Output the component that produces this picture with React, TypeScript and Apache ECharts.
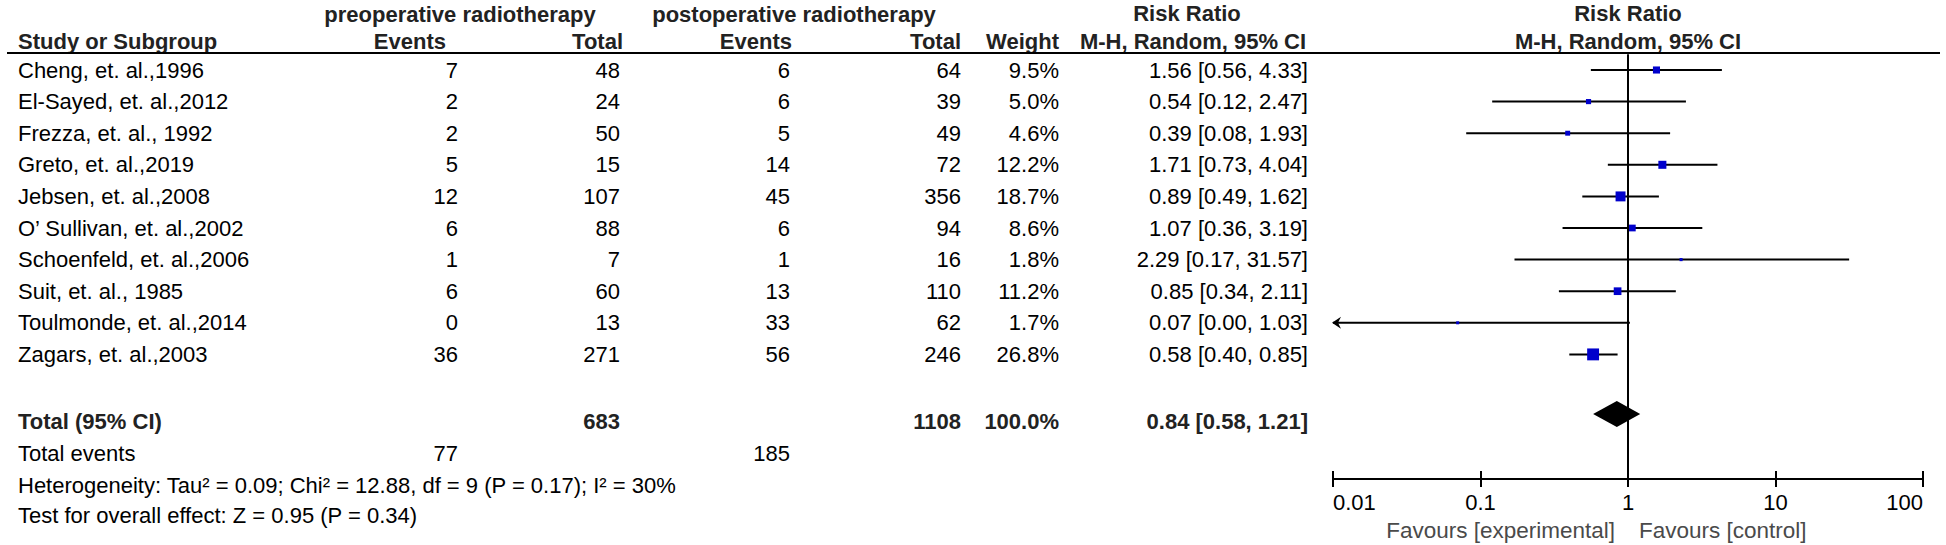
import React, { useEffect, useRef } from "react";
import * as echarts from "echarts";

// ---------- data ----------
const studies = [
  "Cheng, et. al.,1996",
  "El-Sayed, et. al.,2012",
  "Frezza, et. al., 1992",
  "Greto, et. al.,2019",
  "Jebsen, et. al.,2008",
  "O’ Sullivan, et. al.,2002",
  "Schoenfeld, et. al.,2006",
  "Suit, et. al., 1985",
  "Toulmonde, et. al.,2014",
  "Zagars, et. al.,2003",
];
const preEvents = [7, 2, 2, 5, 12, 6, 1, 6, 0, 36];
const preTotal = [48, 24, 50, 15, 107, 88, 7, 60, 13, 271];
const postEvents = [6, 6, 5, 14, 45, 6, 1, 13, 33, 56];
const postTotal = [64, 39, 49, 72, 356, 94, 16, 110, 62, 246];
const weights = [9.5, 5.0, 4.6, 12.2, 18.7, 8.6, 1.8, 11.2, 1.7, 26.8];
const riskRatio = [1.56, 0.54, 0.39, 1.71, 0.89, 1.07, 2.29, 0.85, 0.07, 0.58];
const ciLower = [0.56, 0.12, 0.08, 0.73, 0.49, 0.36, 0.17, 0.34, 0.0, 0.4];
const ciUpper = [4.33, 2.47, 1.93, 4.04, 1.62, 3.19, 31.57, 2.11, 1.03, 0.85];

const totalParticipants = [683, 1108];
const totalEvents = [77, 185];
const totalWeight = [100.0];
const pooled = [0.84, 0.58, 1.21]; // estimate, lower, upper

const heterogeneityText =
  "Heterogeneity: Tau² = 0.09; Chi² = 12.88, df = 9 (P = 0.17); I² = 30%";
const overallText = "Test for overall effect: Z = 0.95 (P = 0.34)";
const xTicks = [0.01, 0.1, 1, 10, 100];
const favourLabels = ["Favours [experimental]", "Favours [control]"];
const groupLabels = ["preoperative radiotherapy", "postoperative radiotherapy"];

// ---------- layout ----------
const W = 1946;
const H = 545;
const FONT = '"Liberation Sans", Arial, Helvetica, sans-serif';
const FS = 22;
const ROW0 = 70;
const ROWH = 31.6;
const AXIS_Y = 479;
const X_LEFT = 1333;
const X_RIGHT = 1923;
const DIAMOND_Y = 414;
const COL = {
  name: 18,
  preEv: 458,
  preTot: 620,
  postEv: 790,
  postTot: 961,
  weight: 1059,
  rr: 1308,
  plotC: 1628,
};

const fmt2 = (v: number) => v.toFixed(2);

function txt(
  text: string,
  x: number,
  y: number,
  align: string,
  opts: { bold?: boolean; size?: number; color?: string } = {}
) {
  return {
    type: "text",
    x,
    y,
    silent: true,
    style: {
      text,
      fontFamily: FONT,
      fontSize: opts.size ?? FS,
      fontWeight: opts.bold ? "bold" : "normal",
      fill: opts.color ?? "#000",
      align,
      textAlign: align,
      verticalAlign: "middle",
      textVerticalAlign: "middle",
    },
  };
}

export default function App() {
  const ref = useRef<HTMLDivElement>(null);

  useEffect(() => {
    document.body.style.margin = "0";
    if (!ref.current) return;
    const chart = echarts.init(ref.current, undefined, { renderer: "svg" });

    const gridTop = ROW0 - ROWH * 0.5;
    const yMin = -0.5;
    const yMax = yMin + (AXIS_Y - gridTop) / ROWH;
    const diamondRow = (DIAMOND_Y - ROW0) / ROWH;

    const graphics: any[] = [];
    const hdr = "#222";
    // header row 1
    graphics.push(txt(groupLabels[0], 460, 14, "center", { bold: true, color: hdr }));
    graphics.push(txt(groupLabels[1], 794, 14, "center", { bold: true, color: hdr }));
    graphics.push(txt("Risk Ratio", 1187, 13, "center", { bold: true, color: hdr }));
    graphics.push(txt("Risk Ratio", COL.plotC, 13, "center", { bold: true, color: hdr }));
    // header row 2
    graphics.push(txt("Study or Subgroup", COL.name, 41, "left", { bold: true, color: hdr }));
    graphics.push(txt("Events", 446, 41, "right", { bold: true, color: hdr }));
    graphics.push(txt("Total", 623, 41, "right", { bold: true, color: hdr }));
    graphics.push(txt("Events", 792, 41, "right", { bold: true, color: hdr }));
    graphics.push(txt("Total", COL.postTot, 41, "right", { bold: true, color: hdr }));
    graphics.push(txt("Weight", COL.weight, 41, "right", { bold: true, color: hdr }));
    graphics.push(txt("M-H, Random, 95% CI", 1193, 41, "center", { bold: true, color: hdr }));
    graphics.push(txt("M-H, Random, 95% CI", COL.plotC, 41, "center", { bold: true, color: hdr }));
    graphics.push({
      type: "line",
      silent: true,
      shape: { x1: 7, y1: 53, x2: 1940, y2: 53 },
      style: { stroke: "#000", lineWidth: 2 },
    });

    // study rows
    studies.forEach((s, i) => {
      const y = ROW0 + ROWH * i;
      graphics.push(txt(s, COL.name, y, "left"));
      graphics.push(txt(String(preEvents[i]), COL.preEv, y, "right"));
      graphics.push(txt(String(preTotal[i]), COL.preTot, y, "right"));
      graphics.push(txt(String(postEvents[i]), COL.postEv, y, "right"));
      graphics.push(txt(String(postTotal[i]), COL.postTot, y, "right"));
      graphics.push(txt(weights[i].toFixed(1) + "%", COL.weight, y, "right"));
      graphics.push(
        txt(
          `${fmt2(riskRatio[i])} [${fmt2(ciLower[i])}, ${fmt2(ciUpper[i])}]`,
          COL.rr,
          y,
          "right"
        )
      );
    });

    // totals
    const yT = 421;
    graphics.push(txt("Total (95% CI)", COL.name, yT, "left", { bold: true, color: hdr }));
    graphics.push(txt(String(totalParticipants[0]), COL.preTot, yT, "right", { bold: true, color: hdr }));
    graphics.push(txt(String(totalParticipants[1]), COL.postTot, yT, "right", { bold: true, color: hdr }));
    graphics.push(txt(totalWeight[0].toFixed(1) + "%", COL.weight, yT, "right", { bold: true, color: hdr }));
    graphics.push(
      txt(
        `${fmt2(pooled[0])} [${fmt2(pooled[1])}, ${fmt2(pooled[2])}]`,
        COL.rr,
        yT,
        "right",
        { bold: true, color: hdr }
      )
    );
    graphics.push(txt("Total events", COL.name, 453, "left"));
    graphics.push(txt(String(totalEvents[0]), COL.preEv, 453, "right"));
    graphics.push(txt(String(totalEvents[1]), COL.postEv, 453, "right"));
    graphics.push(txt(heterogeneityText, COL.name, 485, "left"));
    graphics.push(txt(overallText, COL.name, 515, "left"));

    // favours
    graphics.push(txt(favourLabels[0], 1615, 530, "right", { size: 22.5, color: "#4a4a4a" }));
    graphics.push(txt(favourLabels[1], 1639, 530, "left", { size: 22.5, color: "#4a4a4a" }));

    const whiskerData = studies.map((_, i) => [ciLower[i], ciUpper[i], i]);
    const pointData = studies.map((_, i) => [riskRatio[i], i, weights[i]]);

    const option: any = {
      animation: false,
      backgroundColor: "#fff",
      grid: {
        left: X_LEFT,
        right: W - X_RIGHT,
        top: gridTop,
        bottom: H - AXIS_Y,
        containLabel: false,
      },
      xAxis: [
        {
          type: "log",
          logBase: 10,
          min: xTicks[0],
          max: xTicks[xTicks.length - 1],
          position: "bottom",
          axisLine: { show: true, onZero: false, lineStyle: { color: "#000", width: 2 } },
          axisTick: { show: true, length: 8, lineStyle: { color: "#000", width: 2 } },
          axisLabel: {
            color: "#000",
            fontSize: 22,
            fontFamily: FONT,
            margin: 12,
            alignMinLabel: "left",
            alignMaxLabel: "right",
            formatter: (v: number) => {
              let best = xTicks[0];
              xTicks.forEach((t) => {
                if (Math.abs(Math.log10(t) - Math.log10(v)) < Math.abs(Math.log10(best) - Math.log10(v))) best = t;
              });
              return String(best);
            },
          },
          splitLine: { show: false },
        },
        {
          type: "log",
          logBase: 10,
          min: xTicks[0],
          max: xTicks[xTicks.length - 1],
          position: "bottom",
          offset: 0,
          axisLine: { show: false, onZero: false },
          axisTick: { show: true, inside: true, length: 8, lineStyle: { color: "#000", width: 2 } },
          axisLabel: { show: false },
          splitLine: { show: false },
        },
      ],
      yAxis: {
        type: "value",
        inverse: true,
        min: yMin,
        max: yMax,
        show: false,
      },
      graphic: graphics,
      series: [
        {
          type: "custom",
          xAxisIndex: 0,
          z: 2,
          encode: { x: 1, y: 2 },
          data: whiskerData,
          renderItem: (params: any, api: any) => {
            const lo = api.value(0);
            const hi = api.value(1);
            const yi = api.value(2);
            const minX = xTicks[0];
            const p1 = api.coord([Math.max(lo, minX), yi]);
            const p2 = api.coord([hi, yi]);
            const children: any[] = [
              {
                type: "line",
                shape: { x1: p1[0], y1: p1[1], x2: p2[0], y2: p2[1] },
                style: { stroke: "#000", lineWidth: 2 },
              },
            ];
            if (lo < minX) {
              children.push({
                type: "polygon",
                shape: {
                  points: [
                    [p1[0] - 1, p1[1]],
                    [p1[0] + 8, p1[1] - 6],
                    [p1[0] + 5, p1[1]],
                    [p1[0] + 8, p1[1] + 6],
                  ],
                },
                style: { fill: "#000" },
              });
            }
            return { type: "group", children };
          },
        },
        {
          type: "scatter",
          xAxisIndex: 0,
          z: 3,
          symbol: "rect",
          symbolSize: (v: number[]) => 2.3 * Math.sqrt(v[2]),
          itemStyle: { color: "#0000CC", opacity: 1 },
          data: pointData,
          markLine: {
            silent: true,
            symbol: ["none", "none"],
            label: { show: false },
            lineStyle: { color: "#000", width: 2, type: "solid" },
            data: [{ xAxis: 1 }],
          },
        },
        {
          type: "custom",
          xAxisIndex: 0,
          z: 3,
          encode: { x: 1, y: 3 },
          data: [[pooled[1], pooled[0], pooled[2], diamondRow]],
          renderItem: (params: any, api: any) => {
            const lo = api.coord([api.value(0), api.value(3)]);
            const mid = api.coord([api.value(1), api.value(3)]);
            const hi = api.coord([api.value(2), api.value(3)]);
            const h = 13;
            return {
              type: "polygon",
              shape: {
                points: [
                  [lo[0], lo[1]],
                  [mid[0], mid[1] - h],
                  [hi[0], hi[1]],
                  [mid[0], mid[1] + h],
                ],
              },
              style: { fill: "#000" },
            };
          },
        },
      ],
    };

    chart.setOption(option);
    return () => chart.dispose();
  }, []);

  return <div ref={ref} style={{ width: W, height: H }} />;
}
